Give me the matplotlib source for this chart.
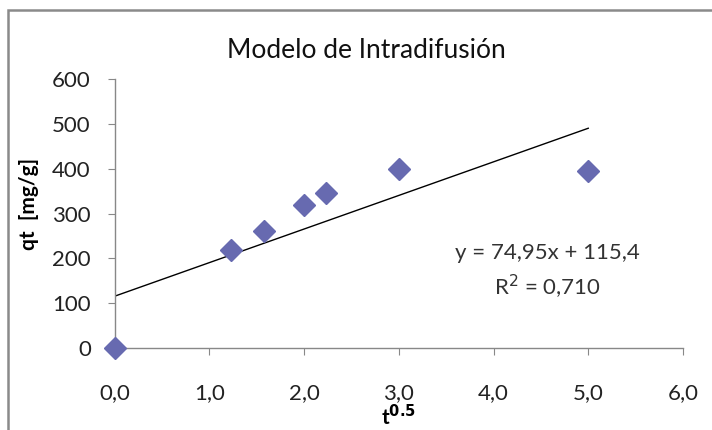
import numpy as np
import matplotlib
matplotlib.use("Agg")
import matplotlib.pyplot as plt
from matplotlib.patches import Rectangle

plt.rcParams['font.family'] = ['Lato', 'DejaVu Sans']

# Data
t_sqrt = [0.0, 1.225, 1.581, 2.0, 2.236, 3.0, 5.0]
qt = [0, 218, 260, 320, 346, 400, 395]
slope = 74.95
intercept = 115.4
r2_text = "0,710"
xticks = [0, 1, 2, 3, 4, 5, 6]
xticklabels = ["0,0", "1,0", "2,0", "3,0", "4,0", "5,0", "6,0"]
yticks = [0, 100, 200, 300, 400, 500, 600]

W, H = 712, 430
fig = plt.figure(figsize=(W / 100, H / 100), dpi=100)
fig.patch.set_facecolor('white')
# outer chart frame (right and bottom edges lie outside the picture)
fig.patches.append(Rectangle((7.5 / W, -0.05), 1.0, (H - 10.5) / H + 0.05,
                             transform=fig.transFigure, fill=False,
                             edgecolor='#8a8a8a', linewidth=1.8))

ax = fig.add_axes([114.5 / W, (H - 348) / H, 568.5 / W, 269 / H])
ax.set_xlim(0, 6)
ax.set_ylim(0, 600)

# trendline
xl = np.array([0.0, max(t_sqrt)])
ax.plot(xl, slope * xl + intercept, color='black', linewidth=1.0, zorder=2)

ax.plot(t_sqrt, qt, linestyle='none', marker='D', markersize=11,
        color='#676AB0', markeredgecolor='#676AB0', zorder=5, clip_on=False)

for s in ['top', 'right']:
    ax.spines[s].set_visible(False)
for s in ['left', 'bottom']:
    ax.spines[s].set_color('#888888')
    ax.spines[s].set_linewidth(1.0)

ax.set_xticks(xticks)
ax.set_xticklabels(xticklabels)
ax.set_yticks(yticks)
ax.tick_params(axis='both', direction='out', length=5, color='#888888',
               labelsize=16, labelcolor='#222222')
ax.tick_params(axis='x', pad=20)
ax.tick_params(axis='y', pad=12)

ax.set_xlabel(r"t$^{\mathbf{0.5}}$", fontsize=15, fontweight='bold')
ax.xaxis.set_label_coords(0.5, (348 - 404) / 269)
ax.set_ylabel("qt  [mg/g]", fontsize=15, fontweight='bold')
ax.yaxis.set_label_coords((29 - 114.5) / 568.5, (348 - 204) / 269)
ax.yaxis.label.set_va('center')

fig.text(366 / W, 1 - 51 / H, "Modelo de Intradifusión", ha='center', va='center',
         fontsize=19, color='#111111')

eq_text = f"y = {slope:.2f}x + {intercept:.1f}".replace('.', ',')
fig.text(547 / W, 1 - 253 / H, eq_text, ha='center', va='center',
         fontsize=16, color='#333333')
fig.text(547 / W, 1 - 287 / H, "R$^2$ = " + r2_text, ha='center', va='center',
         fontsize=16, color='#333333')

fig.savefig("out.png", dpi=100, facecolor='white')
